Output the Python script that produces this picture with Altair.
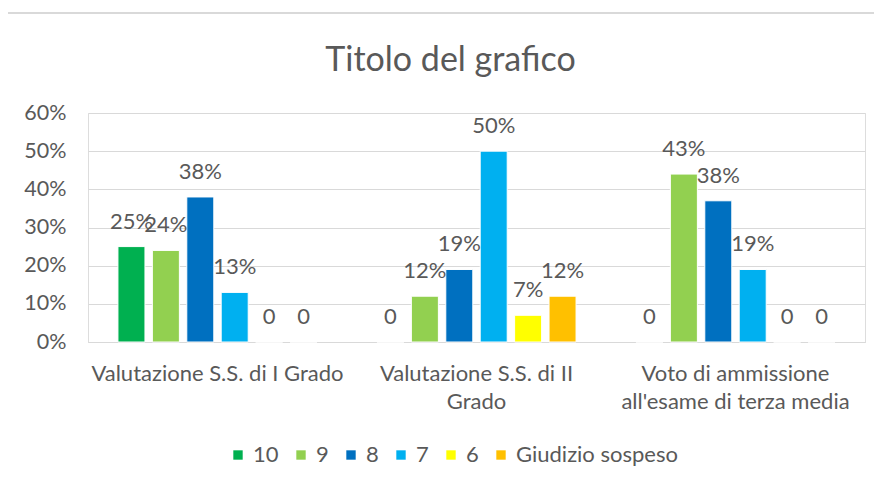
import altair as alt
import pandas as pd

categories = ["Valutazione S.S. di I Grado", "Valutazione S.S. di II|Grado", "Voto di ammissione|all'esame di terza media"]
series = ["10", "9", "8", "7", "6", "Giudizio sospeso"]
colors = ["#00B050", "#92D050", "#0070C0", "#00B0F0", "#FFFF00", "#FFC000"]

values = {
    categories[0]: [0.25, 0.24, 0.38, 0.13, 0.0, 0.0],
    categories[1]: [0.0, 0.12, 0.19, 0.50, 0.07, 0.12],
    categories[2]: [0.0, 0.44, 0.37, 0.19, 0.0, 0.0],
}
labels = {
    categories[0]: ["25%", "24%", "38%", "13%", "0", "0"],
    categories[1]: ["0", "12%", "19%", "50%", "7%", "12%"],
    categories[2]: ["0", "43%", "38%", "19%", "0", "0"],
}

rows = []
for c in categories:
    for s, v, l in zip(series, values[c], labels[c]):
        rows.append({"categoria": c, "serie": s, "valore": v, "etichetta": l})
df = pd.DataFrame(rows)

FONT = "Lato"
GREY = "#595959"

x = alt.X("categoria:N", sort=categories, title=None,
          scale=alt.Scale(paddingInner=0, paddingOuter=0),
          axis=alt.Axis(labelExpr="split(datum.label, '|')", labelAngle=0,
                        labelFontSize=22, labelColor=GREY, labelFont=FONT,
                        labelPadding=21, labelLineHeight=28, ticks=False,
                        labelLimit=400,
                        domainColor="#D9D9D9", labelBaseline="top"))
xo = alt.XOffset("serie:N", sort=series,
                 scale=alt.Scale(paddingInner=0.215, paddingOuter=0.87))
y = alt.Y("valore:Q", title=None,
          scale=alt.Scale(domain=[0, 0.6]),
          axis=alt.Axis(format=".0%", tickCount=7, values=[0, 0.1, 0.2, 0.3, 0.4, 0.5, 0.6],
                        labelOverlap=False,
                        labelFontSize=21.5, labelColor=GREY, labelFont=FONT,
                        domain=False, ticks=False, labelPadding=22,
                        gridColor="#D9D9D9", gridWidth=1))

color = alt.Color("serie:N", sort=series,
                  scale=alt.Scale(domain=series, range=colors),
                  legend=alt.Legend(title=None, orient="none", direction="horizontal",
                                    legendX=139, legendY=331, padding=0,
                                    symbolType="square", symbolSize=88,
                                    symbolStrokeWidth=0, labelLimit=300,
                                    labelFontSize=22, labelColor=GREY, labelFont=FONT,
                                    labelOffset=4, columnPadding=11))

bars = alt.Chart(df).mark_bar(stroke="white", strokeWidth=1).encode(
    x=x, xOffset=xo, y=y, color=color
)

text = alt.Chart(df).mark_text(
    baseline="middle", dy=-25, fontSize=22, color=GREY, font=FONT
).encode(
    x=alt.X("categoria:N", sort=categories),
    xOffset=alt.XOffset("serie:N", sort=series),
    y="valore:Q",
    text="etichetta:N",
)

border = alt.Chart(pd.DataFrame({"a": [0]})).mark_rect(
    fill=None, stroke="#D9D9D9", strokeWidth=2
).encode(
    x=alt.value(-81), x2=alt.value(800), y=alt.value(-100), y2=alt.value(420)
)

chart = alt.layer(border, bars, text).properties(
    width=777, height=229,
    title=alt.TitleParams("Titolo del grafico", fontSize=34, color=GREY, font=FONT,
                          fontWeight="normal", anchor="middle", dx=-26, offset=-66),
    autosize=alt.AutoSizeParams(type="none"),
    padding={"left": 80, "top": 105, "right": 9, "bottom": 130},
).configure_view(stroke=None).configure(background="white")

chart.save("out.html", embed_options={"renderer": "svg", "actions": False})
